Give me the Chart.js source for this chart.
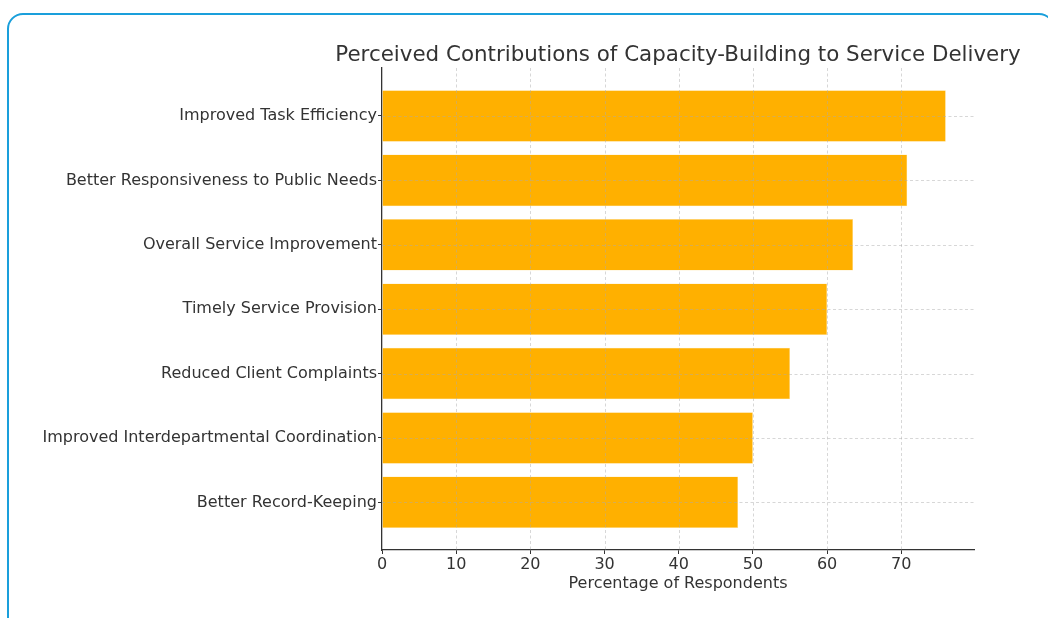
<!DOCTYPE html>
<html lang="en">
<head>
  <meta charset="UTF-8">
  <script src="https://cdn.jsdelivr.net/npm/chart.js"></script>
  <title>Perceived Contributions of Capacity-Building</title>
  <style>
    body { margin: 0; background: #fff; }
    .frame {
      position: absolute; left: 7px; top: 13px; width: 1044px; height: 620px;
      border: 2px solid #1a9fdb; border-radius: 16px;
    }
    #chart { position: absolute; left: 0; top: 0; }
  </style>
</head>
<body>
  <div class="frame"></div>
  <canvas id="chart" width="1048" height="618"></canvas>

<script>
  // categories, top to bottom
  const categories = [
    'Improved Task Efficiency',
    'Better Responsiveness to Public Needs',
    'Overall Service Improvement',
    'Timely Service Provision',
    'Reduced Client Complaints',
    'Improved Interdepartmental Coordination',
    'Better Record-Keeping'
  ];
  const percentages = [76, 70.8, 63.5, 60, 55, 50, 48];
  const xTicks = [0, 10, 20, 30, 40, 50, 60, 70];
  const chartTitle = 'Perceived Contributions of Capacity-Building to Service Delivery';

  const textColor = '#333333';
  const fontFamily = '"DejaVu Sans", sans-serif';

  // dashed grid drawn on top of the bars, like the original
  const gridOnTop = {
    id: 'gridOnTop',
    afterDatasetsDraw(chart) {
      const { ctx, chartArea, scales } = chart;
      ctx.save();
      ctx.strokeStyle = 'rgba(170,170,170,0.6)';
      ctx.lineWidth = 0.8;
      ctx.setLineDash([3, 2.5]);
      xTicks.forEach(function (t) {
        if (t === 0) return;
        const px = Math.round(scales.x.getPixelForValue(t)) + 0.5;
        ctx.beginPath();
        ctx.moveTo(px, chartArea.top);
        ctx.lineTo(px, chartArea.bottom);
        ctx.stroke();
      });
      categories.forEach(function (c, i) {
        const py = Math.round(scales.y.getPixelForValue(i)) + 0.5;
        ctx.beginPath();
        ctx.moveTo(chartArea.left, py);
        ctx.lineTo(chartArea.right, py);
        ctx.stroke();
      });
      ctx.restore();
    }
  };

  // title centred over the plot area (it is wider than the plot)
  const plotTitle = {
    id: 'plotTitle',
    afterDraw(chart) {
      const { ctx, chartArea } = chart;
      ctx.save();
      ctx.font = '21.4px ' + fontFamily;
      ctx.fillStyle = textColor;
      ctx.textAlign = 'center';
      ctx.textBaseline = 'alphabetic';
      ctx.fillText(chartTitle, (chartArea.left + chartArea.right) / 2, 61);
      ctx.restore();
    }
  };

  const dataBar = {
    datasets: [{
      label: 'Percentage of Respondents',
      data: percentages.map(function (v, i) { return { x: v, y: i }; }),
      backgroundColor: '#FFB000',
      borderColor: '#FFE3A0',
      borderWidth: 0.5,
      categoryPercentage: 1,
      barPercentage: 0.8
    }]
  };

  const configBar = {
    type: 'bar',
    data: dataBar,
    plugins: [gridOnTop, plotTitle],
    options: {
      indexAxis: 'y',
      responsive: false,
      animation: false,
      devicePixelRatio: 1,
      layout: { padding: { left: 0, right: 74, top: 68, bottom: 0 } },
      plugins: {
        legend: { display: false },
        tooltip: { enabled: false },
        title: { display: false }
      },
      scales: {
        x: {
          type: 'linear',
          min: 0,
          max: 79.8,
          offset: false,
          afterBuildTicks: function (scale) {
            scale.ticks = xTicks.map(function (v) { return { value: v }; });
          },
          afterFit: function (scale) { scale.height = 68; },
          grid: { display: true, offset: false, drawOnChartArea: false, drawTicks: true, tickLength: 4, color: textColor },
          border: { display: true, color: textColor, width: 1.3 },
          ticks: { color: textColor, padding: 1, maxRotation: 0, font: { family: fontFamily, size: 16 } },
          title: {
            display: true,
            text: 'Percentage of Respondents',
            color: textColor,
            font: { family: fontFamily, size: 16 },
            padding: { top: 0, bottom: 25 }
          }
        },
        y: {
          type: 'linear',
          reverse: true,
          min: -0.745,
          max: 6.74,
          offset: false,
          afterBuildTicks: function (scale) {
            scale.ticks = categories.map(function (c, i) { return { value: i }; });
          },
          afterFit: function (scale) { scale.width = 382; },
          grid: { display: true, offset: false, drawOnChartArea: false, drawTicks: true, tickLength: 4, color: textColor },
          border: { display: true, color: textColor, width: 1.3 },
          ticks: {
            color: textColor,
            padding: 1,
            font: { family: fontFamily, size: 16 },
            callback: function (value) { return categories[value]; }
          }
        }
      }
    }
  };

  const bar = new Chart(document.getElementById('chart'), configBar);
</script>
</body>
</html>
